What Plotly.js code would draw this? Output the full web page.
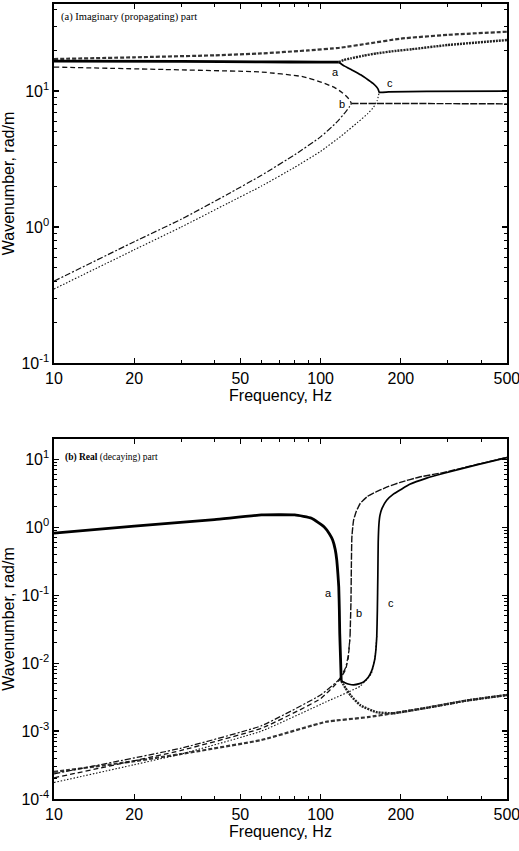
<!DOCTYPE html>
<html>
<head>
<meta charset="utf-8">
<script src="https://cdn.plot.ly/plotly-3.0.1.min.js"></script>
<style>html,body{margin:0;padding:0;background:#fff;}#chart{width:519px;height:851px;}</style>
</head>
<body>
<div id="chart"></div>
<script>
// ---------- Panel (a): imaginary (propagating) part ----------
const imRoot1_f = [10, 20, 40, 60, 90, 118, 150, 200, 300, 500];
const imRoot1_k = [17.2, 17.7, 18.3, 18.9, 19.9, 20.8, 22.3, 24.3, 25.9, 27.3];

const imPairA_f = [10, 30, 60, 100, 117];
const imPairA_k = [16.6, 16.5, 16.4, 16.3, 16.3];

const imAUp_f = [117, 122, 130, 145, 162, 190, 220, 300, 500];
const imAUp_k = [16.3, 16.9, 17.4, 18.2, 18.9, 19.7, 20.3, 21.8, 23.7];

const imADown_f = [117, 123, 131, 142, 151, 158, 162, 164.5, 166, 180, 250, 500];
const imADown_k = [16.3, 15.25, 14.3, 13.1, 12.05, 11.3, 10.75, 10.3, 9.8, 9.85, 9.95, 10.0];

const imDotted_f = [10, 20, 30, 45, 60, 80, 100, 120, 138, 150, 158, 163, 166];
const imDotted_k = [0.35, 0.68, 1.0, 1.5, 2.0, 2.75, 3.6, 4.7, 5.9, 6.8, 7.6, 8.5, 9.8];

const imDashed_f = [10, 26, 60, 85, 101, 113, 120, 126, 129, 130.5];
const imDashed_k = [15.0, 14.4, 13.8, 12.8, 11.6, 10.6, 9.8, 9.0, 8.5, 8.1];

const imDashDot_f = [10, 20, 30, 45, 60, 80, 100, 115, 124, 128, 130.5];
const imDashDot_k = [0.40, 0.78, 1.14, 1.75, 2.4, 3.4, 4.6, 5.9, 7.0, 7.6, 8.1];

const imB_f = [130.5, 200, 300, 500];
const imB_k = [8.1, 8.1, 8.08, 8.05];

// ---------- Panel (b): real (decaying) part ----------
const reRoot1_f = [10, 20, 30, 60, 105, 150, 187, 250, 350, 500];
const reRoot1_k = [2.5e-4, 3.6e-4, 4.6e-4, 7.4e-4, 1.37e-3, 1.6e-3, 1.83e-3, 2.2e-3, 2.8e-3, 3.4e-3];

const rePairA_f = [10, 20, 40, 60, 80, 92.5, 103, 108, 111, 113.5, 115, 116.2, 117, 117.6, 118, 118.8, 119.5];
const rePairA_k = [0.82, 1.04, 1.3, 1.52, 1.52, 1.36, 1.02, 0.8, 0.65, 0.47, 0.33, 0.2, 0.133, 0.06, 0.0275, 0.012, 0.0055];

const reAUp_f = [119.5, 124, 130, 141, 162, 187, 250, 350, 500];
const reAUp_k = [0.0055, 0.0043, 0.0033, 0.0024, 0.0019, 0.00183, 0.0022, 0.0028, 0.0034];

const reADown_f = [119.5, 124, 128, 133, 140, 145, 151, 155, 158, 160, 161.5, 162.5, 163.3, 164, 164.5, 165.5, 167, 170, 177, 188, 200, 216, 250, 288, 385, 500];
const reADown_k = [0.0055, 0.0051, 0.0049, 0.0048, 0.005, 0.0053, 0.0062, 0.0075, 0.0095, 0.012, 0.017, 0.025, 0.06, 0.2, 0.6, 1.1, 1.5, 1.9, 2.5, 3.1, 3.6, 4.3, 5.3, 6.2, 8.3, 10.6];

const reDotted_f = [10, 20, 30, 60, 105, 141, 155, 160, 162.5];
const reDotted_k = [1.75e-4, 3.2e-4, 4.6e-4, 1.0e-3, 2.7e-3, 4.6e-3, 7e-3, 0.012, 0.025];

const reDashed_f = [10, 30, 60, 100, 117, 124, 127, 129];
const reDashed_k = [2.05e-4, 5.2e-4, 1.1e-3, 3.0e-3, 5.5e-3, 8e-3, 0.012, 0.025];

const reDashDot_f = [10, 30, 60, 100, 117, 124, 127, 129];
const reDashDot_k = [2.35e-4, 5.6e-4, 1.2e-3, 3.4e-3, 5.7e-3, 8.5e-3, 0.013, 0.025];

const reB_f = [129, 130, 130.5, 131, 132, 133, 136, 141, 150, 162, 180, 199, 235, 288, 385, 500];
const reB_k = [0.025, 0.08, 0.3, 0.7, 1.0, 1.28, 1.7, 2.26, 2.85, 3.34, 4.0, 4.6, 5.5, 6.4, 8.4, 10.7];

// ---------- tick labels ----------
const xTickVals = [10, 20, 50, 100, 200, 500];
const xTickText = ['10', '20', '50', '100', '200', '500'];
const yTopTickVals = [0.1, 1, 10];
const yTopTickText = ['10<sup>-1</sup>', '10<sup>0</sup>', '10<sup>1</sup>'];
const yBotTickVals = [1e-4, 1e-3, 1e-2, 1e-1, 1, 10];
const yBotTickText = ['10<sup>-4</sup>', '10<sup>-3</sup>', '10<sup>-2</sup>', '10<sup>-1</sup>', '10<sup>0</sup>', '10<sup>1</sup>'];

// ---------- styles ----------
const S = {
  root1:  {color: '#333', width: 2.2, dash: '4px,2px'},
  pairA:  {color: '#000', width: 2.8, dash: 'solid'},
  aUp:    {color: '#222', width: 2.4, dash: '2px,1px'},
  aDown:  {color: '#000', width: 1.7, dash: 'solid'},
  dotted: {color: '#111', width: 1.1, dash: '1.5px,1.8px'},
  dashed: {color: '#111', width: 1.3, dash: '5px,3px'},
  dashdot:{color: '#111', width: 1.2, dash: '6px,2px,2px,2px'},
  bLine:  {color: '#111', width: 1.4, dash: '7px,1.5px'}
};

function tr(x, y, style, xa, ya) {
  return {x: x, y: y, type: 'scatter', mode: 'lines', xaxis: xa, yaxis: ya,
          line: Object.assign({shape: 'spline', smoothing: 0.4}, style), hoverinfo: 'skip'};
}

const data = [
  tr(imRoot1_f, imRoot1_k, S.root1, 'x', 'y'),
  tr(imDashed_f, imDashed_k, S.dashed, 'x', 'y'),
  tr(imDashDot_f, imDashDot_k, S.dashdot, 'x', 'y'),
  tr(imDotted_f, imDotted_k, S.dotted, 'x', 'y'),
  tr(imB_f, imB_k, S.bLine, 'x', 'y'),
  tr(imAUp_f, imAUp_k, S.aUp, 'x', 'y'),
  tr(imADown_f, imADown_k, S.aDown, 'x', 'y'),
  tr(imPairA_f, imPairA_k, S.pairA, 'x', 'y'),

  tr(reRoot1_f, reRoot1_k, S.root1, 'x2', 'y2'),
  tr(reDashed_f, reDashed_k, S.dashed, 'x2', 'y2'),
  tr(reDashDot_f, reDashDot_k, S.dashdot, 'x2', 'y2'),
  tr(reDotted_f, reDotted_k, S.dotted, 'x2', 'y2'),
  tr(reB_f, reB_k, S.bLine, 'x2', 'y2'),
  tr(reAUp_f, reAUp_k, S.aUp, 'x2', 'y2'),
  tr(reADown_f, reADown_k, S.aDown, 'x2', 'y2'),
  tr(rePairA_f, rePairA_k, S.pairA, 'x2', 'y2')
];

const tickFont = {family: 'Liberation Sans, Arial, sans-serif', size: 16, color: '#000'};
const titleFont = {family: 'Liberation Sans, Arial, sans-serif', size: 16, color: '#000'};

function xAxis(anchor) {
  return {
    type: 'log', range: [1, 2.6993], anchor: anchor,
    tickmode: 'array', tickvals: xTickVals, ticktext: xTickText,
    ticklabeloverflow: 'allow',
    ticks: 'inside', ticklen: 5, tickwidth: 1.2, tickcolor: '#000',
    minor: {ticks: 'inside', ticklen: 3, tickwidth: 1, tickcolor: '#000', dtick: 'D1', showgrid: false},
    showline: true, linecolor: '#000', linewidth: 1.6, mirror: 'allticks',
    showgrid: false, zeroline: false, tickfont: tickFont,
    title: {text: 'Frequency, Hz', font: titleFont, standoff: 3},
    automargin: false
  };
}
function yAxis(anchor, domain, range, tv, tt) {
  return {
    type: 'log', range: range, domain: domain, anchor: anchor,
    tickmode: 'array', tickvals: tv, ticktext: tt,
    ticklabeloverflow: 'allow',
    ticks: 'inside', ticklen: 5, tickwidth: 1.2, tickcolor: '#000',
    minor: {ticks: 'inside', ticklen: 3, tickwidth: 1, tickcolor: '#000', dtick: 'D1', showgrid: false},
    showline: true, linecolor: '#000', linewidth: 1.6, mirror: 'allticks',
    showgrid: false, zeroline: false, tickfont: tickFont,
    title: {text: 'Wavenumber, rad/m', font: titleFont, standoff: 6},
    automargin: false
  };
}

const annFont = {family: 'Liberation Sans, Arial, sans-serif', size: 11, color: '#000'};
const panelFontA = {family: 'Liberation Serif, Times New Roman, serif', size: 10.5, color: '#000'};
const panelFontB = {family: 'Liberation Serif, Times New Roman, serif', size: 9.5, color: '#000'};

const layout = {
  width: 519, height: 851,
  margin: {l: 54, r: 12, t: 4, b: 52},
  paper_bgcolor: '#fff', plot_bgcolor: '#fff',
  showlegend: false,
  xaxis: xAxis('y'),
  yaxis: yAxis('x', [0.5484, 1], [-1, 1.64], yTopTickVals, yTopTickText),
  xaxis2: xAxis('y2'),
  yaxis2: yAxis('x2', [0, 0.4528], [-4, 1.3], yBotTickVals, yBotTickText),
  annotations: [
    {xref: 'x domain', yref: 'y domain', x: 0.012, y: 0.963, xanchor: 'left', yanchor: 'middle',
     text: '(a) Imaginary (propagating) part', showarrow: false, font: panelFontA},
    {xref: 'x2 domain', yref: 'y2 domain', x: 0.02, y: 0.95, xanchor: 'left', yanchor: 'middle',
     text: '<b>(b) Real</b> (decaying) part', showarrow: false, font: panelFontB},
    {xref: 'x', yref: 'y', x: Math.log10(114), y: Math.log10(13.7), text: 'a', showarrow: false, font: annFont},
    {xref: 'x', yref: 'y', x: Math.log10(120), y: Math.log10(8.08), text: 'b', showarrow: false, font: annFont},
    {xref: 'x', yref: 'y', x: Math.log10(182), y: Math.log10(11.45), text: 'c', showarrow: false, font: annFont},
    {xref: 'x2', yref: 'y2', x: Math.log10(107), y: Math.log10(0.108), text: 'a', showarrow: false, font: annFont},
    {xref: 'x2', yref: 'y2', x: Math.log10(139), y: Math.log10(0.0547), text: 'b', showarrow: false, font: annFont},
    {xref: 'x2', yref: 'y2', x: Math.log10(184), y: Math.log10(0.077), text: 'c', showarrow: false, font: annFont}
  ]
};

Plotly.newPlot('chart', data, layout, {staticPlot: true, displayModeBar: false});
</script>
</body>
</html>
